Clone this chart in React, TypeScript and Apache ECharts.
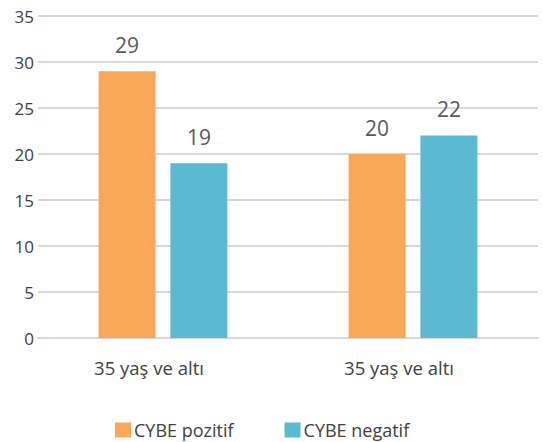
import React, { useEffect, useRef } from "react";
import * as echarts from "echarts";

const categories = ["35 yaş ve altı", "35 yaş ve altı"];
const positive = [29, 20];
const negative = [19, 22];
const seriesNames = ["CYBE pozitif", "CYBE negatif"];
const yTicks = { min: 0, max: 35, interval: 5 };

export default function App() {
  const ref = useRef<HTMLDivElement>(null);
  useEffect(() => {
    const chart = echarts.init(ref.current!, null, { renderer: "svg" });
    const font = "'Open Sans', Lato, sans-serif";
    chart.setOption({
      animation: false,
      textStyle: { fontFamily: font },
      grid: { left: 38, right: 5, top: 16, bottom: 104, containLabel: false },
      legend: {
        top: 421,
        left: 115,
        padding: 0,
        itemWidth: 16,
        itemHeight: 15,
        itemGap: 51,
        icon: "rect",
        textStyle: { fontSize: 18, color: "#404040", fontFamily: font, padding: [0, 0, 0, -2] },
        data: seriesNames,
      },
      xAxis: {
        type: "category",
        data: categories,
        axisLine: { show: true, lineStyle: { color: "#d9d9d9", width: 2 } },
        axisTick: { show: false },
        axisLabel: { fontSize: 18.5, color: "#404040", margin: 20, fontFamily: font, padding: [0, 28, 0, 0] },
      },
      yAxis: {
        type: "value",
        min: yTicks.min,
        max: yTicks.max,
        interval: yTicks.interval,
        axisLine: { show: false },
        axisTick: { show: false },
        splitLine: { lineStyle: { color: "#d9d9d9", width: 2 } },
        axisLabel: { fontSize: 17, color: "#404040", margin: 4, fontFamily: font },
      },
      series: [
        {
          name: seriesNames[0],
          type: "bar",
          data: positive,
          barWidth: 57,
          barGap: "26%",
          itemStyle: { color: "#F9A85A" },
          label: { show: true, position: "top", distance: 16, fontSize: 21, color: "#595959", fontFamily: font },
        },
        {
          name: seriesNames[1],
          type: "bar",
          data: negative,
          barWidth: 57,
          barGap: "26%",
          itemStyle: { color: "#5BB9D1" },
          label: { show: true, position: "top", distance: 16, fontSize: 21, color: "#595959", fontFamily: font },
        },
      ],
    });
    return () => chart.dispose();
  }, []);
  return <div ref={ref} style={{ width: 543, height: 442, position: "absolute", left: 0, top: 0 }} />;
}
